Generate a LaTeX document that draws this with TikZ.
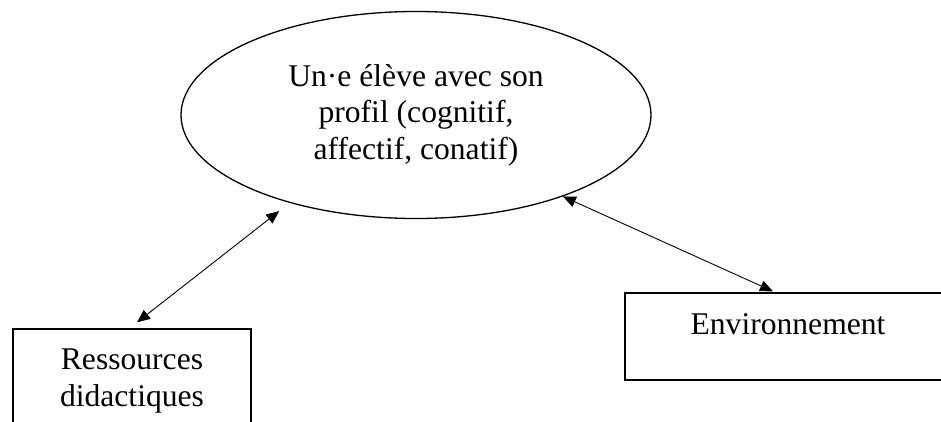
\documentclass[tikz,border=0pt]{standalone}
\usepackage{fontspec}
\setmainfont{Liberation Serif}
\usetikzlibrary{arrows.meta,shapes.geometric}
\begin{document}
\begin{tikzpicture}[x=1pt,y=-1pt,
  txt/.style={font=\fontsize{31.6}{36.5}\selectfont, align=center},
  oval/.style={draw, line width=1.3pt, ellipse, inner sep=0pt, txt},
  boxnode/.style={draw, line width=1.3pt, rectangle, inner sep=0pt, txt},
  dbl/.style={line width=0.9pt, {Triangle[length=13pt,width=11pt]}-{Triangle[length=13pt,width=11pt]}}]
\useasboundingbox (0,0) rectangle (941,421);
\clip (0,0) rectangle (941,421);
\node[oval, minimum width=470pt, minimum height=207pt] (ell) at (416,115)
  {Un·e élève avec son\\profil (cognitif,\\affectif, conatif)};
\node[boxnode, minimum width=238pt, minimum height=104pt] (res) at (132,381)
  {Ressources\\didactiques};
\node[boxnode, minimum width=326pt, minimum height=87pt, text height=22pt, text depth=27pt] (env) at (788,336.5)
  {Environnement};
\draw[dbl] ([shift={(5,-6)}]res.north) -- ([shift={(-11,8)}]ell.215);
\draw[dbl] (ell.331) -- ([shift={(-15,-1)}]env.north);
\end{tikzpicture}
\end{document}
